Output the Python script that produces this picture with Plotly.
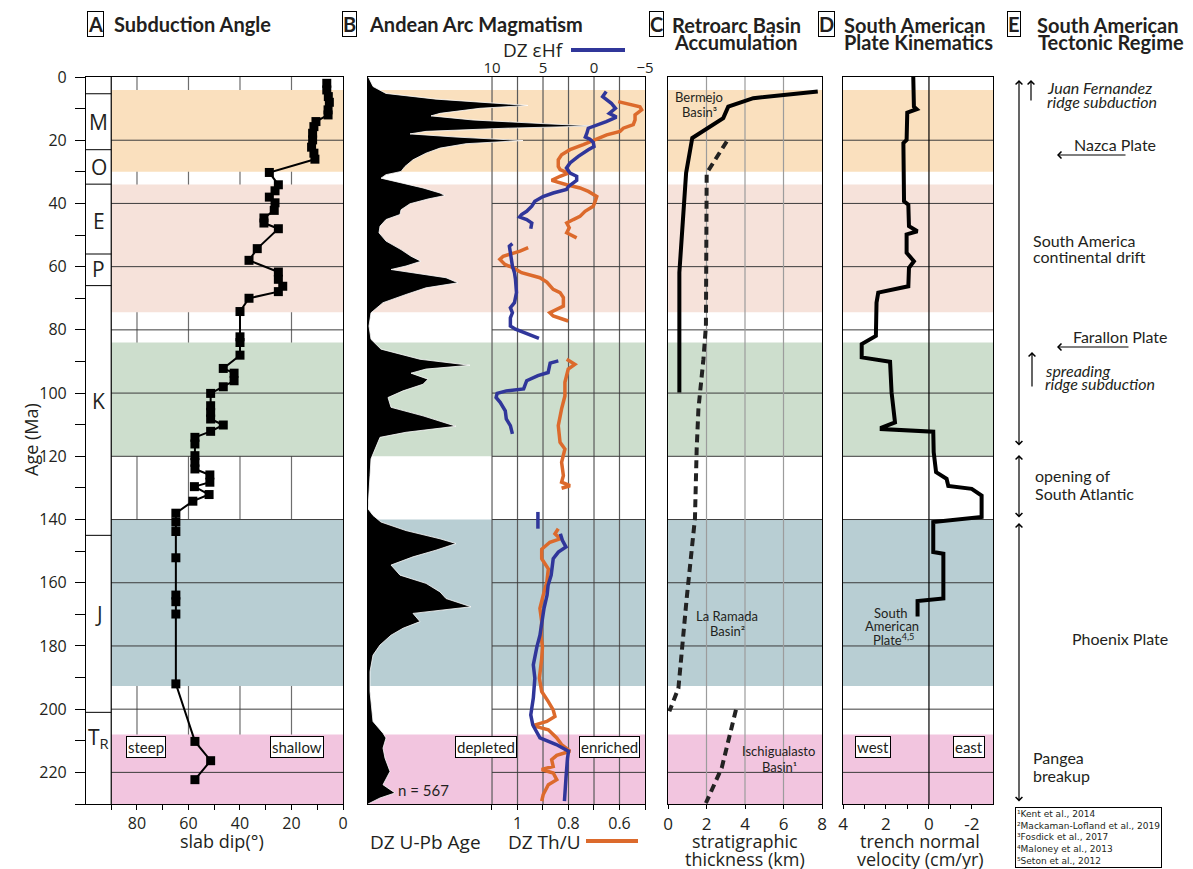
"""Subduction angle, arc magmatism, basin accumulation and plate kinematics panels (Plotly)."""

import plotly.graph_objects as go

W, H = 1193, 869
OFF = 8  # the page body margin shifts the figure; positions below are in reference pixels
BODY = "Open Sans"
LABEL = "Lato"
INK = "#231f20"

# ---- A: slab dip --------------------------------------------------------
slab_age = [2.0, 4.1, 6.2, 8.0, 10.4, 12.0, 14.1, 15.7, 17.8, 19.9, 22.2, 24.1, 26.0,
            30.2, 34.1, 36.0, 38.0, 39.8, 42.2, 44.6, 46.2, 48.0, 54.3, 58.0, 61.7, 64.0,
            66.2, 67.9, 70.0, 74.2, 82.2, 84.0, 88.0, 92.2, 93.7, 96.1, 98.0, 100.1, 104.0,
            106.1, 108.2, 110.1, 112.1, 114.0, 116.1, 119.8, 121.9, 124.0, 125.9, 128.2,
            129.6, 132.1, 134.2, 138.0, 140.8, 143.8, 152.1, 163.9, 166.0, 169.9, 192.0,
            210.2, 216.3, 222.3]
slab_dip = [6.3, 6.3, 5.7, 5.3, 5.8, 5.8, 10.5, 11.3, 11.8, 11.8, 12.2, 11.3, 10.9,
            28.6, 25.1, 26.4, 28.6, 26.4, 26.7, 30.7, 30.7, 25.1, 33.3, 36.5, 25.1, 25.1,
            23.4, 25.1, 36.5, 40.0, 40.0, 40.0, 40.0, 46.5, 42.3, 42.3, 46.5, 51.4, 51.4,
            51.4, 51.4, 46.5, 51.4, 57.5, 57.5, 57.5, 57.5, 57.5, 51.7, 51.7,
            57.7, 52.0, 58.3, 64.9, 64.9, 64.9, 64.9, 64.9, 64.9, 64.9, 64.9,
            57.5, 51.4, 57.5]

period_bounds = [5.3, 23, 33.9, 56, 66, 145, 201]
period_names = ["M", "O", "E", "P", "K", "J", "T<sub>R</sub>"]
period_label_age = [14.2, 28.4, 45.7, 60.6, 102.5, 170, 209]

# ---- B: detrital zircon -------------------------------------------------
kde_age = [0, 0.4, 3.0, 5.2, 7.0, 8.1, 9.0, 9.9, 11.5, 12.3,
           13.6, 14.8, 15.5, 16.2, 17.2, 18.0, 19.0, 20.1, 21.1, 22.5,
           24.1, 26.2, 28.3, 29.9, 30.9, 32.0, 33.5, 35.1, 36.7, 37.5,
           38.6, 40.1, 42.0, 43.5, 45.1, 47.2, 49.3, 51.9, 54.6, 56.7,
           58.3, 59.8, 60.9, 61.9, 63.5, 65.1, 66.7, 68.8, 71.4, 74.6,
           78.8, 83.0, 86.1, 89.3, 91.2, 92.4, 93.7, 95.6, 97.2, 99.3,
           101.4, 104.5, 107.2, 110.5, 112.4, 114.0, 117.7, 120.8, 126.1, 130.3,
           136.6, 138.7, 140.8, 143.5, 146.1, 147.6, 149.7, 151.8, 154.4, 157.6,
           160.2, 162.9, 165.0, 167.6, 169.7, 172.3, 174.4, 176.6, 179.7, 182.9,
           188.1, 194.4, 199.7, 203.9, 207.6, 209.1, 212.3, 215.5, 219.7, 223.9,
           226.5, 228.1, 230]
kde_val = [0, 0.01, 0.05, 0.18, 0.68, 1.22, 1.60, 1.12, 0.72, 0.63,
           1.05, 1.78, 2.27, 1.38, 0.58, 0.42, 0.88, 1.55, 0.98, 0.72,
           0.58, 0.45, 0.37, 0.33, 0.18, 0.13, 0.32, 0.55, 0.72, 0.77,
           0.60, 0.42, 0.33, 0.32, 0.18, 0.12, 0.11, 0.18, 0.33, 0.43,
           0.53, 0.38, 0.23, 0.45, 0.78, 0.90, 0.58, 0.38, 0.15, 0.03,
           0.01, 0.03, 0.13, 0.52, 1.02, 0.58, 0.43, 0.60, 0.55, 0.35,
           0.20, 0.23, 0.55, 0.88, 0.38, 0.12, 0.07, 0.03, 0.02, 0.01,
           0.0, 0.05, 0.13, 0.38, 0.72, 0.88, 0.68, 0.45, 0.23, 0.32,
           0.58, 0.72, 0.78, 1.03, 0.45, 0.52, 0.35, 0.23, 0.12, 0.05,
           0.02, 0.02, 0.04, 0.05, 0.15, 0.18, 0.15, 0.17, 0.22, 0.15,
           0.27, 0.12, 0.0]

hf_age_1 = [4.6, 6.2, 8.3, 9.9, 11.5, 12.7, 14.1, 15.1, 16.2, 17.8, 19.0, 19.7, 20.7, 22.0,
            23.0, 25.1, 27.2, 28.8, 30.4, 31.4, 32.7, 34.6, 35.6, 36.7, 37.8, 39.3, 40.9,
            42.5, 43.5, 44.3, 45.1, 46.2, 48.0]
hf_val_1 = [-1.2, -0.85, -1.7, -2.1, -1.5, -2.2, -1.2, -0.26, 0.56, 0.7, 0.85, 0.4, 0.07, 0.0,
            0.56, 1.54, 2.35, 2.7, 2.35, 1.7, 1.7, 2.5, 2.7, 4.0, 5.0, 5.8, 6.1,
            6.6, 7.1, 7.3, 6.6, 6.1, 6.2]
hf_age_2 = [52.7, 53.5, 55.6, 59.8, 61.9, 64.0, 68.2, 71.4, 73.0, 74.6, 76.2, 78.8, 79.8, 81.4, 82.7]
hf_val_2 = [8.0, 8.3, 8.2, 8.0, 7.8, 7.7, 7.6, 7.8, 8.2, 8.0, 8.2, 8.2, 7.7, 6.3, 5.4]
hf_age_3 = [89.8, 90.5, 93.5, 94.5, 96.1, 97.2, 98.7, 99.3, 100.1, 101.4, 102.9, 105.6, 108.2, 110.3, 112.9]
hf_val_3 = [3.5, 4.3, 4.5, 5.5, 6.6, 6.7, 6.9, 8.6, 9.5, 9.6, 9.2, 8.7, 8.6, 8.2, 8.0]
hf_age_4 = [137.6, 142.9]
hf_val_4 = [5.5, 5.5]
hf_age_5 = [144.5, 146.6, 148.7, 150.3, 152.4, 157.6, 160.8, 163.9, 168.1, 173.4, 176.6, 180.3,
            186.0, 190.2, 196.5, 201.8, 205.0, 209.1, 211.2, 213.3, 215.5, 221.8, 229.1]
hf_val_5 = [3.3, 3.1, 2.75, 3.5, 4.0, 4.2, 4.5, 4.6, 4.9, 5.1, 5.3, 5.6,
            5.95, 5.8, 5.95, 6.2, 6.0, 5.3, 3.7, 2.5, 2.6, 2.75, 2.9]

thu_age_1 = [7.8, 9.4, 10.4, 12.0, 13.6, 15.1, 16.2, 17.2, 18.3, 19.9, 21.4, 23.0, 24.6, 26.2,
             28.3, 29.3, 30.4, 31.4, 32.7, 34.1, 35.1, 36.2, 37.8, 39.3, 40.9, 42.5, 44.1,
             45.1, 46.2, 47.7, 49.3, 50.9]
thu_val_1 = [0.605, 0.52, 0.513, 0.539, 0.539, 0.546, 0.585, 0.598, 0.65, 0.696, 0.742, 0.794,
             0.827, 0.84, 0.84, 0.833, 0.801, 0.833, 0.866, 0.807, 0.755, 0.722, 0.689, 0.695,
             0.703, 0.735, 0.755, 0.781, 0.807, 0.797, 0.807, 0.768]
thu_age_2 = [54.0, 55.1, 56.7, 57.7, 59.3, 60.4, 61.9, 63.5, 64.9, 67.2, 68.2, 69.8, 72.5, 74.6, 75.6, 77.2]
thu_val_2 = [0.958, 0.99, 1.056, 1.069, 1.049, 1.016, 0.984, 0.912, 0.885, 0.86, 0.833, 0.82,
             0.82, 0.873, 0.86, 0.801]
thu_age_3 = [89.3, 90.9, 92.4, 96.6, 100.9, 105.0, 110.3, 115.6, 117.7, 121.9, 126.1, 128.2, 129.3, 130.1]
thu_val_3 = [0.807, 0.775, 0.801, 0.814, 0.814, 0.827, 0.84, 0.833, 0.814, 0.827, 0.82, 0.827, 0.794, 0.827]
thu_age_4 = [142.9, 144.5, 146.1, 147.2, 149.4, 152.4, 155.6, 159.8, 163.9, 168.1, 172.3, 176.6,
             180.3, 183.9, 190.2, 194.4, 197.6, 200.2, 202.3, 203.9, 205.2, 206.5, 209.1, 211.2,
             213.3, 214.6, 216.0, 218.1, 219.1, 220.2, 222.3, 223.9, 227.0, 229.1]
thu_val_4 = [0.84, 0.853, 0.833, 0.873, 0.905, 0.905, 0.879, 0.885, 0.899, 0.912, 0.905, 0.908,
             0.902, 0.905, 0.914, 0.905, 0.879, 0.86, 0.853, 0.885, 0.94, 0.879, 0.846, 0.827,
             0.794, 0.846, 0.866, 0.86, 0.905, 0.86, 0.846, 0.879, 0.899, 0.905]

# ---- C: retroarc basin thickness -----------------------------------------
bermejo_age = [4.6, 6.7, 9.4, 13.0, 19.3, 30.4, 61.9, 99.8]
bermejo_km = [7.78, 4.43, 3.13, 2.87, 1.26, 0.94, 0.59, 0.59]
ramada_age = [20.4, 30.4, 78.8, 89.3, 105.0, 117.7, 139.7, 165.0, 193.4, 200.7]
ramada_km = [3.05, 2.01, 1.97, 1.84, 1.58, 1.49, 1.40, 0.97, 0.54, 0.07]
ischig_age = [200.2, 218.6, 229.7]
ischig_km = [3.53, 2.79, 1.97]

# ---- D: trench normal velocity -------------------------------------------
vel_age = [0, 9.4, 10.2, 11.3, 19.9, 20.9, 39.3, 40.4, 47.2, 48.8,
           49.8, 55.6, 58.3, 60.4, 66.2, 67.2, 68.2, 71.4, 81.9, 84.5,
           88.7, 90.1, 99.8, 109.3, 110.9, 111.4, 112.2, 118.7, 125.0, 127.1,
           129.4, 130.3, 132.4, 139.2, 140.8, 150.3, 150.8, 165.0, 165.8, 170.7]
vel_cm = [0.73, 0.7, 0.57, 1.01, 1.04, 1.19, 1.16, 0.96, 0.93, 0.54,
          1.04, 1.04, 0.70, 0.93, 0.96, 1.66, 2.36, 2.44, 2.47, 3.13,
          3.13, 1.81, 1.74, 1.58, 2.2, 2.2, -0.2, -0.22, -0.33, -0.82,
          -0.9, -1.99, -2.45, -2.45, -0.2, -0.2, -0.67, -0.67, 0.53, 0.53]

# ---- background age bands --------------------------------------------------
band_top = [4.1, 34.0, 84.0, 140.0, 208.0]
band_bottom = [30.0, 74.4, 120.0, 192.7, 230.0]
band_color = ["#fae0be", "#f6e2da", "#cddecd", "#b8ced3", "#f2c5df"]

grid_ages = list(range(20, 221, 20))


def hx(x):
    return (x - OFF) / W


def hy(y):
    return 1 - (y - OFF) / H


def join(*segs):
    out = []
    for i, s in enumerate(segs):
        if i:
            out.append(None)
        out.extend(s)
    return out


def note(x, y, text, size=16, family=LABEL, anchor="center", **extra):
    a = dict(xref="paper", yref="paper", x=hx(x), y=hy(y), text=text, showarrow=False,
             xanchor=anchor, yanchor="middle", font=dict(size=size, family=family, color=INK))
    a.update(extra)
    return a


def boxed(x, y, text, size=15):
    return note(x, y, text, size=size, bordercolor="black", borderwidth=1, borderpad=1,
                bgcolor="white")


def arrow(x0, y0, x1, y1, both=False):
    return dict(xref="paper", yref="paper", x=hx(x1), y=hy(y1), ax=x0 - x1, ay=y0 - y1,
                axref="pixel", ayref="pixel", text="", showarrow=True,
                arrowhead=4, startarrowhead=4, arrowside="end+start" if both else "end",
                arrowsize=1.1, arrowwidth=1.2, arrowcolor="black", standoff=0, startstandoff=0)


fig = go.Figure()

fig.add_trace(go.Scatter(x=slab_dip, y=slab_age, xaxis="x", yaxis="y", mode="lines+markers",
                         line=dict(color="black", width=2),
                         marker=dict(symbol="square", size=9, color="black")))
fig.add_trace(go.Scatter(x=kde_val, y=kde_age, xaxis="x2", yaxis="y2", mode="lines",
                         fill="tozerox", fillcolor="black", line=dict(color="white", width=0.8)))
fig.add_trace(go.Scatter(x=join(thu_val_1, thu_val_2, thu_val_3, thu_val_4),
                         y=join(thu_age_1, thu_age_2, thu_age_3, thu_age_4),
                         xaxis="x5", yaxis="y2", mode="lines", connectgaps=False,
                         line=dict(color="#dc6a2c", width=3.5)))
fig.add_trace(go.Scatter(x=join(hf_val_1, hf_val_2, hf_val_3, hf_val_4, hf_val_5),
                         y=join(hf_age_1, hf_age_2, hf_age_3, hf_age_4, hf_age_5),
                         xaxis="x6", yaxis="y2", mode="lines", connectgaps=False,
                         line=dict(color="#30369a", width=3.5)))
fig.add_trace(go.Scatter(x=bermejo_km, y=bermejo_age, xaxis="x3", yaxis="y3", mode="lines",
                         line=dict(color="black", width=4)))
fig.add_trace(go.Scatter(x=ramada_km, y=ramada_age, xaxis="x3", yaxis="y3", mode="lines",
                         line=dict(color="#222", width=4, dash="8px,5px")))
fig.add_trace(go.Scatter(x=ischig_km, y=ischig_age, xaxis="x3", yaxis="y3", mode="lines",
                         line=dict(color="#222", width=4, dash="8px,5px")))
fig.add_trace(go.Scatter(x=vel_cm, y=vel_age, xaxis="x4", yaxis="y4", mode="lines",
                         line=dict(color="black", width=4)))

# ---- axes -----------------------------------------------------------------
ydom = [hy(804), hy(77)]
tickfont = dict(family=BODY, size=16, color=INK)
frame = dict(showline=True, linecolor="black", linewidth=1.2, mirror=True,
             showgrid=False, zeroline=False, automargin=False)

a_ticks = list(range(90, -1, -10))
y_ticks = list(range(0, 231, 10))

fig.update_layout(
    xaxis=dict(domain=[hx(86), hx(343)], range=[99.8, 0], anchor="y", tickvals=a_ticks,
               ticktext=[str(v) if v in (80, 60, 40, 20, 0) else "" for v in a_ticks],
               ticks="outside", ticklen=5, tickcolor="black", tickfont=tickfont, **frame),
    yaxis=dict(domain=ydom, range=[230, 0], anchor="x", tickvals=y_ticks,
               ticktext=[str(v) if v % 20 == 0 else "" for v in y_ticks],
               ticks="outside", ticklen=10, tickcolor="black", tickfont=tickfont,
               ticklabelstandoff=5, **frame),
    xaxis2=dict(domain=[hx(368), hx(645)], range=[0, 2.77], anchor="y2", visible=False,
                automargin=False),
    yaxis2=dict(domain=ydom, range=[230, 0], anchor="x2", showticklabels=False, ticks="", **frame),
    xaxis5=dict(overlaying="x2", anchor="y2", side="bottom", range=[1.586, 0.5],
                tickvals=[1.1, 1.0, 0.9, 0.8, 0.7, 0.6, 0.5],
                ticktext=["", "1", "", "0.8", "", "0.6", ""],
                ticks="outside", ticklen=5, tickcolor="black", tickfont=tickfont, **frame),
    xaxis6=dict(overlaying="x2", anchor="y2", side="top", range=[22.16, -5],
                tickvals=[10, 5, 0, -5], ticks="", showline=False, showgrid=False,
                zeroline=False, automargin=False,
                tickfont=dict(family=BODY, size=15, color=INK)),
    xaxis3=dict(domain=[hx(668), hx(822)], range=[0, 8], anchor="y3", tickvals=[0, 2, 4, 6, 8],
                ticks="outside", ticklen=4, tickcolor="black",
                tickfont=dict(family=BODY, size=17, color=INK), **frame),
    yaxis3=dict(domain=ydom, range=[230, 0], anchor="x3", showticklabels=False, ticks="", **frame),
    xaxis4=dict(domain=[hx(843), hx(993)], range=[4, -2.98], anchor="y4",
                tickvals=[4, 3, 2, 1, 0, -1, -2], ticktext=["4", "", "2", "", "0", "", "-2"],
                ticks="outside", ticklen=4, tickcolor="black",
                tickfont=dict(family=BODY, size=17, color=INK), **frame),
    yaxis4=dict(domain=ydom, range=[230, 0], anchor="x4", showticklabels=False, ticks="", **frame),
)

# ---- shapes: bands, grid, period boxes -------------------------------------
shapes = []
panel_x = [("x", 90, 0), ("x2 domain", 0, 1), ("x3 domain", 0, 1), ("x4 domain", 0, 1)]
panel_y = ["y", "y2", "y3", "y4"]
for top, bot, col in zip(band_top, band_bottom, band_color):
    for (xr, x0, x1), yr in zip(panel_x, panel_y):
        shapes.append(dict(type="rect", xref=xr, yref=yr, x0=x0, x1=x1, y0=top, y1=bot,
                           fillcolor=col, line=dict(width=0), layer="below"))

hgrid = [("x", 90, 0, "y"), ("x6", 10, -5, "y2"), ("x3 domain", 0, 1, "y3"), ("x4 domain", 0, 1, "y4")]
for xr, x0, x1, yr in hgrid:
    for age in grid_ages:
        shapes.append(dict(type="line", xref=xr, yref=yr, x0=x0, x1=x1, y0=age, y1=age,
                           line=dict(color="#3c3c3c", width=1), layer="below"))

for v in (80, 60, 40, 20):
    shapes.append(dict(type="line", xref="x", yref="y domain", x0=v, x1=v, y0=0, y1=1,
                       line=dict(color="#6e6e6e", width=1.2), layer="below"))
for v in (10, 7.5, 5, 2.5, 0, -2.5):
    shapes.append(dict(type="line", xref="x6", yref="y2 domain", x0=v, x1=v, y0=0, y1=1,
                       line=dict(color="#5a5a5a", width=1.2), layer="below"))
for v in (2, 4, 6):
    shapes.append(dict(type="line", xref="x3", yref="y3 domain", x0=v, x1=v, y0=0, y1=1,
                       line=dict(color="#9c9c9c", width=1.2), layer="below"))
shapes.append(dict(type="line", xref="x4", yref="y4 domain", x0=0, x1=0, y0=0, y1=1,
                   line=dict(color="black", width=1.2), layer="below"))

# geologic period column in panel A
shapes.append(dict(type="line", xref="x", yref="y domain", x0=90, x1=90, y0=0, y1=1,
                   line=dict(color="black", width=1.2)))
for b in period_bounds:
    shapes.append(dict(type="line", xref="x", yref="y", x0=99.8, x1=90, y0=b, y1=b,
                       line=dict(color="black", width=1)))

# legend swatches next to the axis titles of panel B
shapes.append(dict(type="line", xref="paper", yref="paper", x0=hx(571), x1=hx(625),
                   y0=hy(50), y1=hy(50), line=dict(color="#30369a", width=4)))
shapes.append(dict(type="line", xref="paper", yref="paper", x0=hx(586), x1=hx(638),
                   y0=hy(841), y1=hy(841), line=dict(color="#dc6a2c", width=4)))

# ---- text ------------------------------------------------------------------
ann = []
title_font = 20
for x, letter in [(95, "A"), (349, "B"), (656, "C"), (826, "D"), (1014, "E")]:
    ann.append(note(x, 24, "<b>%s</b>" % letter, size=title_font, bordercolor="black",
                    borderwidth=1, borderpad=0, bgcolor="white"))
ann.append(note(112, 24, "<b>Subduction Angle</b>", size=title_font, anchor="left"))
ann.append(note(367, 24, "<b>Andean Arc Magmatism</b>", size=title_font, anchor="left"))
ann.append(note(736, 25, "<b>Retroarc Basin</b>", size=title_font))
ann.append(note(736, 42, "<b>Accumulation</b>", size=title_font))
ann.append(note(915, 25, "<b>South American</b>", size=title_font))
ann.append(note(918, 42, "<b>Plate Kinematics</b>", size=title_font))
ann.append(note(1108, 25, "<b>South American</b>", size=title_font))
ann.append(note(1111, 42, "<b>Tectonic Regime</b>", size=title_font))

for name, age in zip(period_names, period_label_age):
    ann.append(dict(xref="x", yref="y", x=94.9, y=age, text=name, showarrow=False,
                    font=dict(family=BODY, size=21, color=INK)))

ann.append(note(31, 440, "Age (Ma)", size=18, family=BODY, textangle=-90))
ann.append(note(222, 841, "slab dip(°)", size=18, family=BODY))
ann.append(note(368, 842, "DZ U-Pb Age", size=19, family=BODY, anchor="left"))
ann.append(note(506, 842, "DZ Th/U", size=19, family=BODY, anchor="left"))
ann.append(note(566, 50, "DZ εHf", size=19, family=BODY, anchor="right"))
ann.append(note(745, 841, "stratigraphic", size=18, family=BODY))
ann.append(note(745, 859, "thickness (km)", size=18, family=BODY))
ann.append(note(920, 841, "trench normal", size=18, family=BODY))
ann.append(note(920, 859, "velocity (cm/yr)", size=18, family=BODY))

ann.append(boxed(146, 747, "steep"))
ann.append(boxed(297, 747, "shallow"))
ann.append(boxed(486, 747, "depleted"))
ann.append(boxed(609, 747, "enriched"))
ann.append(boxed(873, 747, "west"))
ann.append(boxed(969, 747, "east"))
ann.append(note(423, 790, "n = 567", size=15))

ann.append(note(699, 97, "Bermejo", size=13))
ann.append(note(699, 112, "Basin³", size=13))
ann.append(note(727, 616, "La Ramada", size=13))
ann.append(note(727, 631, "Basin²", size=13))
ann.append(note(778, 751, "Ischigualasto", size=13))
ann.append(note(779, 767, "Basin¹", size=13))
ann.append(note(891, 613, "South", size=13))
ann.append(note(892, 626, "American", size=13))
ann.append(note(893, 639, "Plate<sup>4,5</sup>", size=13))

# panel E: tectonic regime
ann.append(arrow(1019, 447, 1019, 80, both=True))
ann.append(arrow(1019, 519, 1019, 455, both=True))
ann.append(arrow(1019, 803, 1019, 523, both=True))
ann.append(arrow(1031, 102, 1031, 80))
ann.append(arrow(1032, 388, 1032, 352))
ann.append(arrow(1127, 155, 1057, 155))
ann.append(arrow(1130, 347, 1057, 347))
ann.append(note(1045, 87, "<i>Juan Fernandez</i>", size=16, anchor="left"))
ann.append(note(1045, 101, "<i>ridge subduction</i>", size=16, anchor="left"))
ann.append(note(1072, 144, "Nazca Plate", size=16, anchor="left"))
ann.append(note(1031, 241, "South America", size=16, anchor="left"))
ann.append(note(1031, 256, "continental drift", size=16, anchor="left"))
ann.append(note(1071, 336, "Farallon Plate", size=16, anchor="left"))
ann.append(note(1043, 370, "<i>spreading</i>", size=16, anchor="left"))
ann.append(note(1043, 384, "<i>ridge subduction</i>", size=16, anchor="left"))
ann.append(note(1033, 476, "opening of", size=16, anchor="left"))
ann.append(note(1033, 493, "South Atlantic", size=16, anchor="left"))
ann.append(note(1070, 638, "Phoenix Plate", size=16, anchor="left"))
ann.append(note(1031, 757, "Pangea", size=16, anchor="left"))
ann.append(note(1031, 775, "breakup", size=16, anchor="left"))

refs = ["¹Kent et al., 2014", "²Mackaman-Lofland et al., 2019", "³Fosdick et al., 2017",
        "⁴Maloney et al., 2013", "⁵Seton et al., 2012"]
ann.append(dict(xref="paper", yref="paper", x=hx(1015), y=hy(807), xanchor="left", yanchor="top",
                text="<br>".join(refs), showarrow=False, align="left",
                font=dict(family="DejaVu Sans", size=9, color=INK), bordercolor="black",
                borderwidth=1, borderpad=1, bgcolor="white"))

fig.update_layout(
    width=W, height=H, autosize=False, showlegend=False,
    margin=dict(l=0, r=0, t=0, b=0),
    plot_bgcolor="white", paper_bgcolor="white",
    font=dict(family=BODY, color=INK),
    shapes=shapes, annotations=ann,
)

fig.write_html("out.html")
